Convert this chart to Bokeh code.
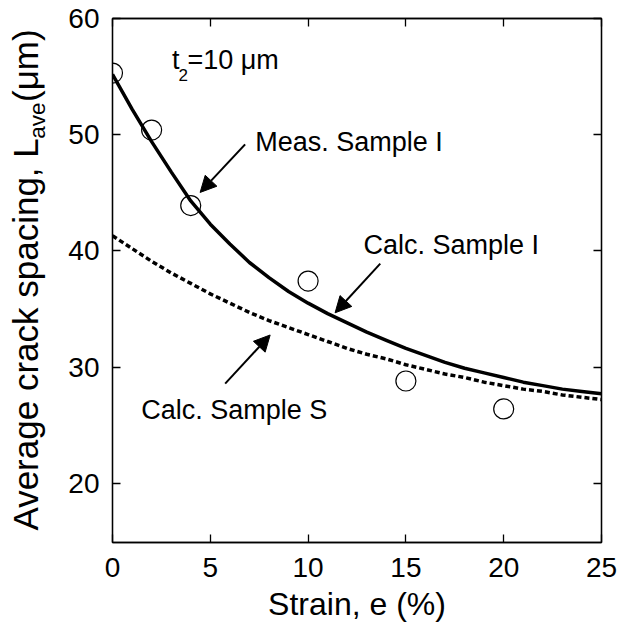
import math
from bokeh.plotting import figure
from bokeh.layouts import row
from bokeh.models import (ColumnDataSource, Range1d, LinearAxis, FixedTicker,
                          Label, Arrow, NormalHead)
from bokeh.core.properties import value
from bokeh.embed import file_html
from bokeh.resources import INLINE

# ---------------- data ----------------
strain_meas = [0, 2, 4, 10, 15, 20]
lave_meas = [55.3, 50.4, 43.9, 37.4, 28.8, 26.4]

strain_calc = [0, 1, 2, 3, 4, 5, 6, 7, 8, 9, 10, 11, 12, 13, 14, 15, 16, 17,
               18, 19, 20, 21, 22, 23, 24, 25]
calc_sample_I = [55.2, 52.2, 49.4, 46.8, 44.3, 42.3, 40.6, 39.0, 37.7, 36.5,
                 35.5, 34.6, 33.8, 33.0, 32.3, 31.6, 31.0, 30.4, 29.9, 29.5,
                 29.1, 28.7, 28.4, 28.1, 27.9, 27.7]
calc_sample_S = [41.3, 40.2, 39.1, 38.1, 37.2, 36.3, 35.5, 34.7, 34.0, 33.4,
                 32.8, 32.2, 31.6, 31.1, 30.7, 30.2, 29.8, 29.4, 29.1, 28.7,
                 28.4, 28.1, 27.9, 27.6, 27.4, 27.2]

x_ticks = [0, 5, 10, 15, 20, 25]
y_ticks = [20, 30, 40, 50, 60]

FONT = "Liberation Sans"
X0, X1 = 0, 25
Y0, Y1 = 14.9, 60
H = 624
TOP, BOTTOM = 18, 79

# ---------------- main plot ----------------
p = figure(width=568, height=H, x_range=Range1d(X0, X1), y_range=Range1d(Y0, Y1),
           output_backend="svg", toolbar_location=None,
           min_border_left=62, min_border_right=17, min_border_top=TOP,
           min_border_bottom=BOTTOM)
p.background_fill_color = "white"
p.border_fill_color = "white"
p.xgrid.visible = False
p.ygrid.visible = False
p.outline_line_color = "black"
p.outline_line_width = 1.3

def style_axis(ax, ticks, labels=True, standoff=12):
    ax.ticker = FixedTicker(ticks=ticks, minor_ticks=[])
    ax.major_tick_in = 8
    ax.major_tick_out = 0
    ax.minor_tick_in = 0
    ax.minor_tick_out = 0
    ax.axis_line_color = "black"
    ax.axis_line_width = 1.3
    ax.major_tick_line_color = "black"
    ax.major_tick_line_width = 1.3
    if labels:
        ax.major_label_text_font = FONT
        ax.major_label_text_font_size = "28px"
        ax.major_label_text_color = "black"
        ax.major_label_standoff = standoff
    else:
        ax.major_label_text_font_size = "0px"
        ax.major_label_standoff = 0
        ax.major_label_overrides = {t: "" for t in ticks}

style_axis(p.xaxis[0], x_ticks, True, 15)
style_axis(p.yaxis[0], y_ticks, True, 13)
p.xaxis[0].axis_label = "Strain, e (%)"
p.xaxis[0].axis_label_text_font = FONT
p.xaxis[0].axis_label_text_font_size = "32px"
p.xaxis[0].axis_label_text_font_style = "normal"
p.xaxis[0].axis_label_text_color = "black"
p.xaxis[0].axis_label_standoff = 6
top_ax = LinearAxis()
right_ax = LinearAxis()
style_axis(top_ax, x_ticks, False)
style_axis(right_ax, y_ticks, False)
p.add_layout(top_ax, "above")
p.add_layout(right_ax, "right")

# curves
src_calc = ColumnDataSource(dict(x=strain_calc, yi=calc_sample_I, ys=calc_sample_S))
p.line("x", "yi", source=src_calc, line_color="black", line_width=3.5)
p.line("x", "ys", source=src_calc, line_color="black", line_width=3.5,
       line_dash="5 3")

src_meas = ColumnDataSource(dict(x=strain_meas, y=lave_meas))
p.scatter("x", "y", source=src_meas, marker="circle", size=20,
          fill_color=None, line_color="black", line_width=1.2)

# annotations (anchor = vertical middle of the text)
def add_text(x, y, text, size, **kw):
    p.add_layout(Label(x=x, y=y, text=text, text_font=FONT,
                       text_font_size=size, text_color="black",
                       text_baseline="middle", **kw))

add_text(X0, Y1, "t", "27px", x_offset=59.4, y_offset=-41.0)
add_text(X0, Y1, "2", "17px", x_offset=66.0, y_offset=-56.0)
add_text(X0, Y1, "=10 \u03bcm", "27px", x_offset=75.0, y_offset=-41.0)

add_text(7.3, 49.36, "Meas. Sample I", "27px")
add_text(12.83, 40.52, "Calc. Sample I", "27px")
add_text(1.47, 26.34, "Calc. Sample S", "27px")

arrows = [((6.78, 49.17), (4.48, 45.03)),
          ((13.69, 38.9), (11.38, 34.67)),
          ((5.76, 28.58), (8.06, 32.76))]
for (xs, ys), (xe, ye) in arrows:
    p.add_layout(Arrow(x_start=xs, y_start=ys, x_end=xe, y_end=ye,
                       line_color="black", line_width=2,
                       end=NormalHead(size=16, fill_color="black",
                                      line_color="black", line_width=1)))

# ---------------- y-axis title panel ----------------
FRAME_H = H - TOP - BOTTOM
t = figure(width=50, height=H, x_range=Range1d(0, 50), y_range=Range1d(0, FRAME_H),
           output_backend="svg", toolbar_location=None,
           x_axis_location=None, y_axis_location=None,
           min_border=0, min_border_left=0, min_border_right=0,
           min_border_top=TOP, min_border_bottom=BOTTOM)
t.grid.visible = False
t.outline_line_color = None
t.background_fill_color = "white"
t.border_fill_color = "white"

# positions measured in px above the frame bottom
title_parts = ["Average crack spacing, L", "ave", "(\u03bcm)"]
tsrc = ColumnDataSource(dict(x=[25.0, 37.0, 25.0], y=[12, 406, 443],
                             text=title_parts,
                             size=["35px", "22.5px", "35px"]))
t.text(x="x", y="y", text="text", source=tsrc, angle=math.pi / 2,
       text_font=value(FONT), text_font_size="size", text_align="left",
       text_baseline="middle", text_color="black")

layout = row(t, p, spacing=0)
open("out.html", "w").write(file_html(layout, INLINE))
